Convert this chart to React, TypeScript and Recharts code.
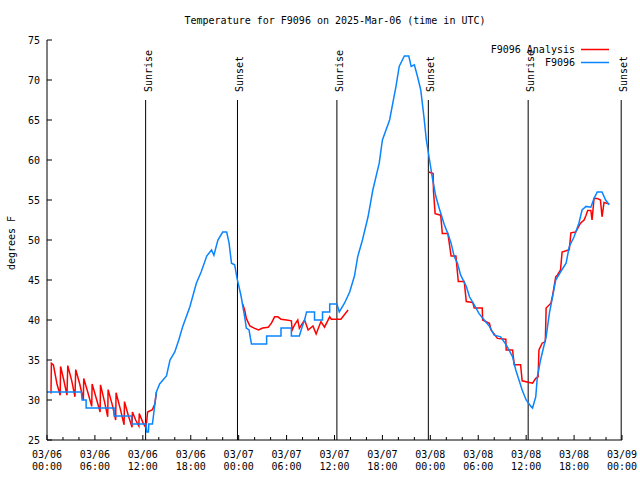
import { LineChart, Line, XAxis, YAxis, ReferenceLine } from "recharts";

const FONT = '"DejaVu Sans Mono", "Liberation Mono", monospace';
const RED = "#ff0000";
const BLUE = "#0a84ff";

const TITLE = "Temperature for F9096 on 2025-Mar-06 (time in UTC)";
const Y_LABEL = "degrees F";

// hours since 03/06 00:00 UTC
const X_TICKS = [0, 2, 4, 6, 8, 10, 12, 14, 16, 18, 20, 22, 24, 26, 28, 30, 32, 34, 36, 38, 40, 42, 44, 46, 48, 50, 52, 54, 56, 58, 60, 62, 64, 66, 68, 70, 72];
const MAJOR_HOURS = [0, 6, 12, 18, 24, 30, 36, 42, 48, 54, 60, 66, 72];
const TICK_DATES = ["03/06", "03/06", "03/06", "03/06", "03/07", "03/07", "03/07", "03/07", "03/08", "03/08", "03/08", "03/08", "03/09"];
const TICK_TIMES = ["00:00", "06:00", "12:00", "18:00", "00:00", "06:00", "12:00", "18:00", "00:00", "06:00", "12:00", "18:00", "00:00"];
const Y_TICKS = [25, 30, 35, 40, 45, 50, 55, 60, 65, 70, 75];

const SUN_HOURS = [12.35, 23.85, 36.3, 47.75, 60.25, 71.9];
const SUN_LABELS = ["Sunrise", "Sunset", "Sunrise", "Sunset", "Sunrise", "Sunset"];
const SUN_LINE_TOP = 67.5;

// observed F9096 [hour, degF]
const OBSERVED: [number, number][] = [
  [0, 31], [4.3, 31], [4.4, 30], [4.9, 30], [4.9, 29], [8.4, 29], [8.4, 28], [10.6, 28], [10.6, 27],
  [12.4, 27], [12.5, 26], [12.7, 26], [12.75, 27], [13.2, 27], [13.7, 31], [14.1, 32], [14.96, 33],
  [15.4, 35], [16, 36], [16.5, 37.5], [17, 39.2], [17.9, 41.7], [18.7, 44.6], [19.3, 46], [20, 48],
  [20.6, 48.75], [20.9, 48.1], [21.4, 50], [22, 51], [22.5, 51], [22.8, 49.6], [23.1, 47.1], [23.5, 46.9],
  [23.8, 45.2], [24.3, 43], [24.75, 40.4], [24.96, 39], [25.3, 38.75], [25.6, 37], [27.5, 37], [27.5, 38],
  [29.3, 38], [29.3, 39], [30.6, 39], [30.6, 38], [31.6, 38], [31.9, 39], [32.25, 40], [32.5, 41],
  [33.5, 41], [33.5, 40], [34.5, 40], [34.5, 41], [35.4, 41], [35.4, 42], [36.3, 42], [36.6, 41],
  [37.25, 42.1], [37.9, 43.5], [38.5, 45.5], [38.9, 47.9], [39.5, 50], [40.2, 52.9], [40.8, 56.25],
  [41.6, 59.6], [42, 62.5], [42.9, 65], [43.3, 67.1], [43.7, 69.2], [44.1, 71.7], [44.75, 73], [45.3, 73],
  [45.6, 71.7], [46, 71.9], [46.4, 70.4], [46.8, 68.75], [47.2, 65.4], [47.5, 62.5], [47.9, 60],
  [48.3, 57.5], [48.7, 55.4], [49.1, 54], [49.75, 51.9], [50.2, 50.8], [50.6, 49.6], [51, 47.9],
  [51.4, 47.1], [51.8, 45.6], [52.5, 44.2], [52.9, 42.9], [53.5, 41.9], [54.1, 40.8], [54.75, 40],
  [55.4, 39.2], [56, 38.1], [56.8, 37.9], [57.5, 36.9], [58.3, 35.4], [58.7, 33.75], [59.1, 32.5],
  [59.5, 31.25], [60, 30], [60.6, 29.2], [60.8, 29], [61.2, 30.4], [61.4, 32.9], [61.8, 35], [62.5, 37.9],
  [62.9, 40.8], [63.3, 42.9], [63.7, 45], [64.3, 46], [65, 47.1], [65.4, 49.2], [66, 50.4], [66.6, 52.1],
  [67, 53.75], [67.5, 54.2], [68.1, 54.1], [68.5, 55.2], [68.9, 56], [69.5, 56], [69.95, 55], [70.4, 54.4],
];

// F9096 analysis, night of 03/06
const ANALYSIS_1: [number, number][] = [
  [0.5, 30.8], [0.55, 34.6], [0.8, 34.4], [1.25, 32.0], [1.65, 30.6],
  [1.7, 34.2], [2.1, 32.5], [2.5, 30.6],
  [2.6, 34.3], [3.1, 32.4], [3.5, 30.4],
  [3.6, 33.8], [4.1, 32.0], [4.55, 30.0],
  [4.6, 32.7], [5.1, 31.0], [5.6, 29.2],
  [5.65, 32.0], [6.2, 30.1], [6.65, 28.5],
  [6.7, 31.9], [7.2, 29.8], [7.6, 27.9],
  [7.65, 31.3], [8.2, 29.3], [8.6, 27.5],
  [8.65, 30.9], [9.2, 28.8], [9.65, 26.9],
  [9.7, 29.8], [10.2, 28.0], [10.65, 26.6],
  [10.7, 28.5], [11.1, 27.5], [11.5, 26.75],
  [11.55, 28.3], [12.0, 27.2], [12.4, 26.5],
  [12.6, 28.5], [13.2, 28.8], [13.5, 29.5], [13.7, 31.0],
];

// F9096 analysis, night of 03/07
const ANALYSIS_2: [number, number][] = [
  [24.5, 42], [24.75, 41.25], [24.96, 40.2], [25.4, 39.25], [26, 38.96], [26.5, 38.75], [27, 39],
  [27.7, 39.1], [28.1, 39.6], [28.5, 40.4], [28.9, 40.4], [29.3, 40.1], [30, 40], [30.6, 39.9],
  [30.7, 38.75], [31, 39.4], [31.4, 40], [31.6, 38.96], [32.25, 40], [32.7, 38.75], [33.3, 39.25],
  [33.7, 38.25], [34.3, 39.8], [34.75, 39.1], [35.4, 40.4], [35.6, 40.1], [36.2, 40.1], [36.8, 40.1],
  [37.7, 41.25],
];

// F9096 analysis, 03/07 evening to 03/08
const ANALYSIS_3: [number, number][] = [
  [47.8, 58.5], [48.35, 58.3], [48.4, 56], [48.6, 53.3], [49.3, 53.1], [49.5, 50.8], [50.2, 50.8],
  [50.4, 49.4], [50.6, 48], [51.2, 48], [51.5, 44.8], [52.25, 44.8], [52.5, 42.3], [53.3, 42.2],
  [53.5, 41.5], [54.5, 41.5], [54.55, 40], [55.4, 39.6], [55.6, 38.75], [56.4, 37.7], [57.45, 37.6],
  [57.5, 36.25], [58.3, 36.25], [58.5, 34.4], [59.3, 34.4], [59.5, 32.4], [60.4, 32.2], [60.8, 32.1],
  [61.2, 32.7], [61.5, 32.9], [61.6, 36.25], [62, 37.1], [62.4, 37.3], [62.5, 41.5], [63.1, 42.1],
  [63.3, 43], [63.7, 45.4], [63.9, 45.6], [64.3, 46.25], [64.5, 48.5], [65.4, 48.8], [65.6, 50.9],
  [66.2, 51], [66.8, 52.1], [67.25, 52.5], [67.5, 53.1], [67.7, 53.7], [68.1, 53.7], [68.25, 52.5],
  [68.5, 55.2], [68.9, 55.2], [69.3, 55], [69.5, 52.9], [69.75, 54.7], [70.4, 54.5],
];

const toRows = (pts: [number, number][]) => pts.map(([h, t]) => ({ h, t }));

function BottomTick(props: any) {
  const { x, y, payload } = props;
  const i = MAJOR_HOURS.indexOf(payload.value);
  return (
    <g>
      <line x1={x} x2={x} y1={y} y2={y - (i >= 0 ? 5 : 3)} stroke="#000" />
      {i >= 0 && (
        <text x={x} y={y + 18} textAnchor="middle" fontFamily={FONT} fontSize={10} fill="#000">
          <tspan x={x}>{TICK_DATES[i]}</tspan>
          <tspan x={x} dy={12}>{TICK_TIMES[i]}</tspan>
        </text>
      )}
    </g>
  );
}

function TopTick(props: any) {
  const { x, y, payload } = props;
  const major = MAJOR_HOURS.includes(payload.value);
  return <line x1={x} x2={x} y1={y} y2={y + (major ? 5 : 3)} stroke="#000" />;
}

function LeftTick(props: any) {
  const { x, y, payload } = props;
  return (
    <g>
      <line x1={x} x2={x + 5} y1={y} y2={y} stroke="#000" />
      <text x={x - 7} y={y + 4} textAnchor="end" fontFamily={FONT} fontSize={10} fill="#000">
        {payload.value}
      </text>
    </g>
  );
}

function RightTick(props: any) {
  const { x, y } = props;
  return <line x1={x} x2={x - 5} y1={y} y2={y} stroke="#000" />;
}

function SunMarker(label: string) {
  return (p: any) => {
    const top = Math.min(p.y1, p.y2);
    const bottom = Math.max(p.y1, p.y2);
    const tx = p.x1 + 6;
    const ty = top - 8;
    return (
      <g>
        <line x1={p.x1} x2={p.x1} y1={top} y2={bottom} stroke="#000" strokeWidth={1} />
        <text x={tx} y={ty} transform={`rotate(-90 ${tx} ${ty})`} textAnchor="start" fontFamily={FONT} fontSize={10} fill="#000">
          {label}
        </text>
      </g>
    );
  };
}

export default function App() {
  return (
    <div style={{ position: "absolute", left: 0, top: 0, width: 640, height: 480, background: "#fff" }}>
      <LineChart width={640} height={480} margin={{ top: 40, right: 18, bottom: 0, left: 0 }}>
        <XAxis
          dataKey="h"
          type="number"
          domain={[0, 72]}
          ticks={X_TICKS}
          interval={0}
          allowDataOverflow
          height={40}
          tickSize={0}
          tickMargin={0}
          tickLine={false}
          tick={<BottomTick />}
          axisLine={{ stroke: "#000" }}
        />
        <XAxis
          xAxisId="top"
          orientation="top"
          dataKey="h"
          type="number"
          domain={[0, 72]}
          ticks={X_TICKS}
          interval={0}
          allowDataOverflow
          height={0}
          tickSize={0}
          tickMargin={0}
          tickLine={false}
          tick={<TopTick />}
          axisLine={{ stroke: "#000" }}
        />
        <YAxis
          type="number"
          domain={[25, 75]}
          ticks={Y_TICKS}
          interval={0}
          allowDataOverflow
          width={47}
          tickSize={0}
          tickMargin={0}
          tickLine={false}
          tick={<LeftTick />}
          axisLine={{ stroke: "#000" }}
        />
        <YAxis
          yAxisId="right"
          orientation="right"
          type="number"
          domain={[25, 75]}
          ticks={Y_TICKS}
          interval={0}
          width={0}
          tickSize={0}
          tickMargin={0}
          tickLine={false}
          tick={<RightTick />}
          axisLine={{ stroke: "#000" }}
        />
        {SUN_HOURS.map((h, i) => (
          <ReferenceLine
            key={`sun-${i}`}
            segment={[{ x: h, y: 25 }, { x: h, y: SUN_LINE_TOP }]}
            shape={SunMarker(SUN_LABELS[i])}
          />
        ))}
        <Line data={toRows(ANALYSIS_1)} dataKey="t" type="linear" stroke={RED} strokeWidth={1.5} dot={false} isAnimationActive={false} />
        <Line data={toRows(ANALYSIS_2)} dataKey="t" type="linear" stroke={RED} strokeWidth={1.5} dot={false} isAnimationActive={false} />
        <Line data={toRows(ANALYSIS_3)} dataKey="t" type="linear" stroke={RED} strokeWidth={1.5} dot={false} isAnimationActive={false} />
        <Line data={toRows(OBSERVED)} dataKey="t" type="linear" stroke={BLUE} strokeWidth={1.5} dot={false} isAnimationActive={false} />
      </LineChart>
      <svg width={640} height={480} style={{ position: "absolute", left: 0, top: 0, pointerEvents: "none" }}>
        <text x={335} y={24} textAnchor="middle" fontFamily={FONT} fontSize={10} fill="#000">{TITLE}</text>
        <text x={15} y={243} transform="rotate(-90 15 243)" textAnchor="middle" fontFamily={FONT} fontSize={10} fill="#000">{Y_LABEL}</text>
        <text x={575} y={53} textAnchor="end" fontFamily={FONT} fontSize={10} fill="#000">F9096 Analysis</text>
        <line x1={581} x2={609} y1={49.5} y2={49.5} stroke={RED} strokeWidth={1.5} />
        <text x={575} y={66} textAnchor="end" fontFamily={FONT} fontSize={10} fill="#000">F9096</text>
        <line x1={581} x2={609} y1={62.5} y2={62.5} stroke={BLUE} strokeWidth={1.5} />
      </svg>
    </div>
  );
}
